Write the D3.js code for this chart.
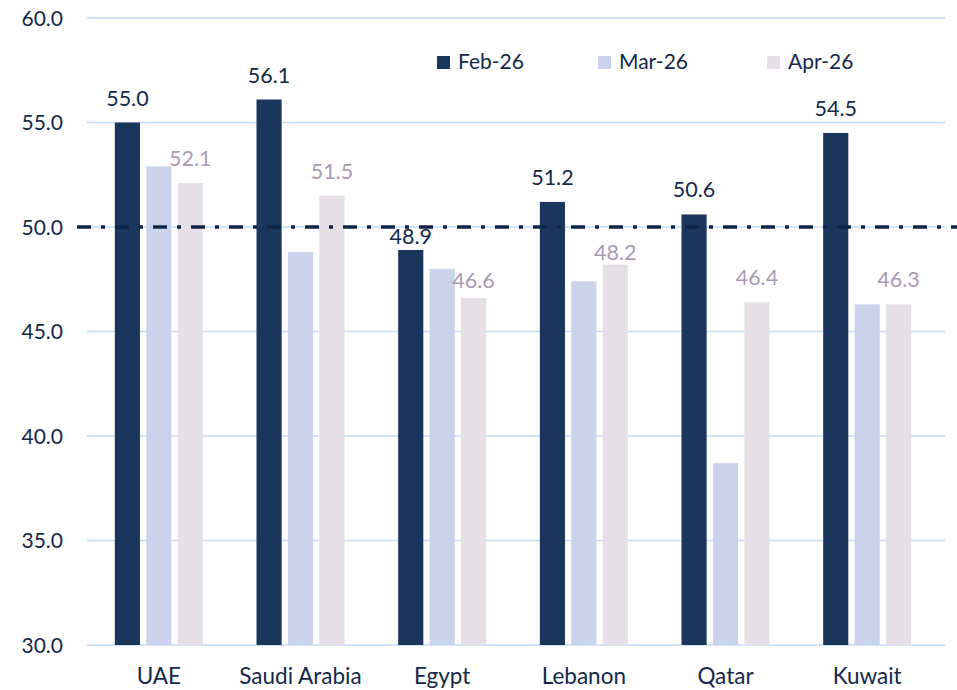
<!doctype html>
<html lang="en">
  <head>
    <meta charset="utf-8">
    <title>PMI by country</title>
    <script src="https://d3js.org/d3.v7.min.js"></script>
    <style>
    body { margin: 0; background: #fff; }
    text { font-family: Lato, "Open Sans", sans-serif; fill: #14284b; }
    </style>
  </head>
  <body>
    <svg width="957" height="690"></svg>
    <script>
      var countries = ['UAE', 'Saudi Arabia', 'Egypt', 'Lebanon', 'Qatar', 'Kuwait'];
      var months = ['Feb-26', 'Mar-26', 'Apr-26'];
      var feb = [55.0, 56.1, 48.9, 51.2, 50.6, 54.5];
      var mar = [52.9, 48.8, 48.0, 47.4, 38.7, 46.3];
      var apr = [52.1, 51.5, 46.6, 48.2, 46.4, 46.3];
      var yTicks = [30, 35, 40, 45, 50, 55, 60];
      var threshold = 50;

      var colors = ['#1b365d', '#cbd3ec', '#e6e0e6'];
      var series = [feb, mar, apr];

      // a few labels sit closer to their bar in the original
      var febGap = { 'Egypt': 6 };
      var aprGap = { 'Egypt': 10, 'Lebanon': 5 };

      var svg = d3.select('svg');

      var x = d3.scaleBand()
        .domain(countries)
        .range([88, 938]);

      var xInner = d3.scaleBand()
        .domain(months)
        .range([-44, 44])
        .paddingInner(0.2);

      var y = d3.scaleLinear()
        .domain([30, 60])
        .range([645, 18]);

      // gridlines
      svg.append('g').selectAll('line')
        .data(yTicks)
        .enter()
        .append('line')
          .attr('x1', 87)
          .attr('x2', 945)
          .attr('y1', function(d){ return y(d); })
          .attr('y2', function(d){ return y(d); })
          .attr('stroke', '#c6dbf6')
          .attr('stroke-width', 1.5);

      // y labels
      svg.append('g').selectAll('text')
        .data(yTicks)
        .enter()
        .append('text')
          .attr('x', 63)
          .attr('y', function(d){ return y(d) + 7.5; })
          .attr('text-anchor', 'end')
          .style('font-size', '21px')
          .text(function(d){ return d.toFixed(1); });

      // bars
      var groups = svg.append('g').selectAll('g')
        .data(countries)
        .enter()
        .append('g')
          .attr('transform', function(d){ return 'translate(' + (x(d) + x.bandwidth() / 2) + ',0)'; });

      groups.selectAll('rect')
        .data(function(d, i){
          return months.map(function(m, j){ return { month: m, value: series[j][i], color: colors[j] }; });
        })
        .enter()
        .append('rect')
          .attr('x', function(d){ return xInner(d.month); })
          .attr('width', xInner.bandwidth())
          .attr('y', function(d){ return y(d.value); })
          .attr('height', function(d){ return y(30) - y(d.value); })
          .attr('fill', function(d){ return d.color; });

      // threshold line
      svg.append('line')
        .attr('x1', 77)
        .attr('x2', 957)
        .attr('y1', y(threshold))
        .attr('y2', y(threshold))
        .attr('stroke', '#0f2447')
        .attr('stroke-width', 3.5)
        .attr('stroke-dasharray', '14,10,4,10');

      // value labels: Feb and Apr
      groups.append('text')
        .attr('x', xInner('Feb-26') + xInner.bandwidth() / 2)
        .attr('y', function(d, i){ return y(feb[i]) - (febGap[d] || 17); })
        .attr('text-anchor', 'middle')
        .style('font-size', '21.5px')
        .text(function(d, i){ return feb[i].toFixed(1); });

      groups.append('text')
        .attr('x', xInner('Apr-26') + xInner.bandwidth() / 2)
        .attr('y', function(d, i){ return y(apr[i]) - (aprGap[d] || 17); })
        .attr('text-anchor', 'middle')
        .style('font-size', '21.5px')
        .style('fill', '#a99bb2')
        .text(function(d, i){ return apr[i].toFixed(1); });

      // x labels
      svg.append('g').selectAll('text')
        .data(countries)
        .enter()
        .append('text')
          .attr('x', function(d){ return x(d) + x.bandwidth() / 2; })
          .attr('y', 684)
          .attr('text-anchor', 'middle')
          .style('font-size', '22.5px')
          .text(function(d){ return d; });

      // legend
      var legendX = [437, 598, 767];
      var legend = svg.append('g').selectAll('g')
        .data(months)
        .enter()
        .append('g')
          .attr('transform', function(d, i){ return 'translate(' + legendX[i] + ',56)'; });

      legend.append('rect')
        .attr('width', 13)
        .attr('height', 13)
        .attr('fill', function(d, i){ return colors[i]; });

      legend.append('text')
        .attr('x', 21)
        .attr('y', 13)
        .style('font-size', '21px')
        .text(function(d){ return d; });
    </script>
  </body>
</html>
